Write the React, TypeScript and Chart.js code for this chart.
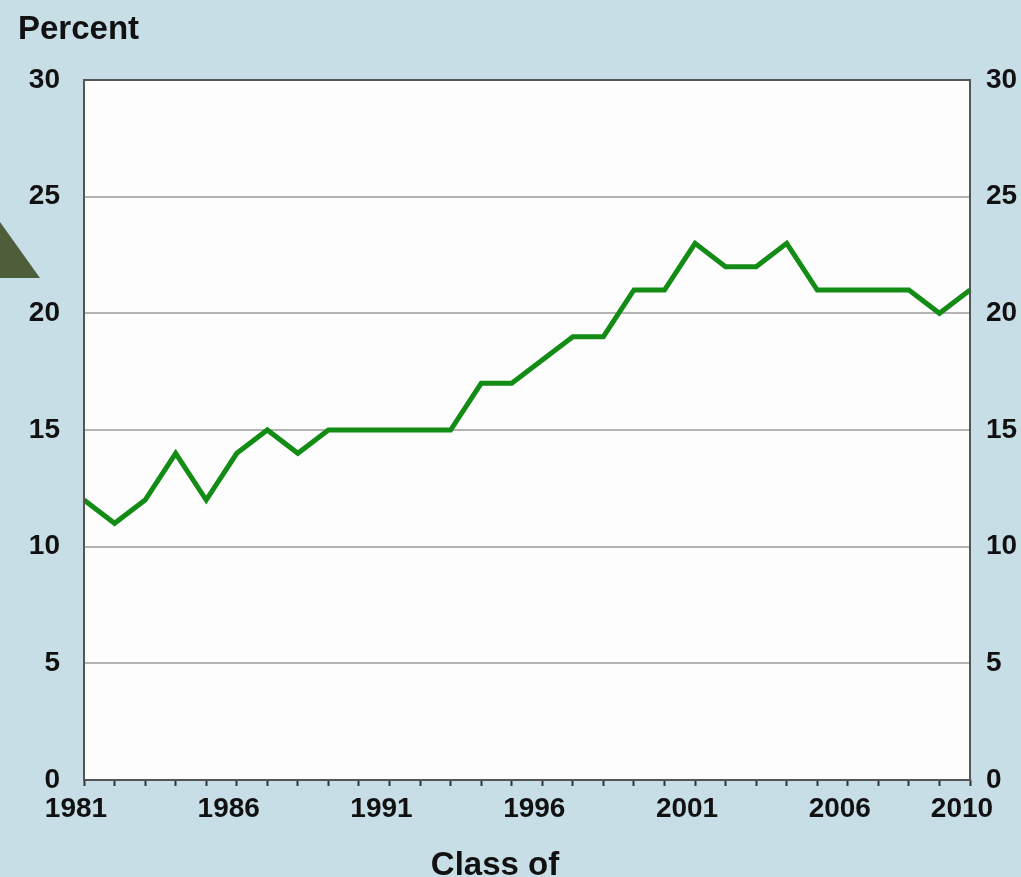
import React, { useEffect, useRef } from "react";
import { Chart, registerables } from "chart.js";

Chart.register(...registerables);

const years: string[] = [
  "1981", "1982", "1983", "1984", "1985", "1986", "1987", "1988", "1989", "1990",
  "1991", "1992", "1993", "1994", "1995", "1996", "1997", "1998", "1999", "2000",
  "2001", "2002", "2003", "2004", "2005", "2006", "2007", "2008", "2009", "2010",
];
const percentValues: number[] = [
  12, 11, 12, 14, 12, 14, 15, 14, 15, 15,
  15, 15, 15, 17, 17, 18, 19, 19, 21, 21,
  23, 22, 22, 23, 21, 21, 21, 21, 20, 21,
];
const labelledYears: string[] = ["1981", "1986", "1991", "1996", "2001", "2006", "2010"];
const yTickMin = 0;
const yTickMax = 30;
const yTickStep = 5;
const yTitle = "Percent";
const xTitle = "Class of";

const FONT = '"Liberation Sans", Arial, Helvetica, sans-serif';

const decorPlugin = {
  id: "decor",
  beforeDraw(chart: any) {
    const { ctx, chartArea } = chart;
    ctx.save();
    ctx.fillStyle = "#fdfdfd";
    ctx.fillRect(chartArea.left, chartArea.top, chartArea.right - chartArea.left, chartArea.bottom - chartArea.top);
    ctx.fillStyle = "#4f5e3a";
    ctx.beginPath();
    ctx.moveTo(0, 222);
    ctx.lineTo(40, 278);
    ctx.lineTo(0, 278);
    ctx.closePath();
    ctx.fill();
    ctx.restore();
  },
  afterDraw(chart: any) {
    const { ctx, chartArea } = chart;
    ctx.save();
    ctx.strokeStyle = "#555555";
    ctx.lineWidth = 2;
    ctx.strokeRect(chartArea.left, chartArea.top, chartArea.right - chartArea.left, chartArea.bottom - chartArea.top);
    ctx.fillStyle = "#111111";
    ctx.font = `bold 33px ${FONT}`;
    ctx.textBaseline = "alphabetic";
    ctx.textAlign = "left";
    ctx.fillText(yTitle, 18, 39);
    ctx.textAlign = "center";
    ctx.fillText(xTitle, 495, 875);
    ctx.restore();
  },
};

export default function App() {
  const canvasRef = useRef<HTMLCanvasElement | null>(null);

  useEffect(() => {
    if (!canvasRef.current) return;
    const chart = new Chart(canvasRef.current, {
      type: "line",
      data: {
        labels: years,
        datasets: [
          {
            label: yTitle,
            data: percentValues,
            borderColor: "#128c14",
            borderWidth: 5,
            pointRadius: 0,
            tension: 0,
            fill: false,
            yAxisID: "y",
          },
        ],
      },
      options: {
        animation: false,
        responsive: true,
        maintainAspectRatio: false,
        layout: { padding: { top: 80, left: 0, right: 0, bottom: 0 } },
        plugins: {
          legend: { display: false },
          tooltip: { enabled: false },
          title: { display: false },
        },
        scales: {
          x: {
            type: "category",
            offset: false,
            afterFit(scale: any) {
              scale.height = 97;
            },
            grid: {
              display: true,
              drawOnChartArea: false,
              drawTicks: true,
              tickLength: 6,
              tickColor: "#333333",
              tickWidth: 2,
            },
            border: { display: false },
            ticks: {
              autoSkip: false,
              maxRotation: 0,
              minRotation: 0,
              padding: 6,
              labelOffset: -8,
              color: "#111111",
              font: { family: FONT, size: 28, weight: "bold" },
              callback(_v: any, idx: number) {
                const yr = years[idx];
                return labelledYears.includes(yr) ? yr : "";
              },
            },
          },
          y: {
            type: "linear",
            position: "left",
            min: yTickMin,
            max: yTickMax,
            afterFit(scale: any) {
              scale.width = 84;
            },
            grid: {
              color: "#b4b4b4",
              lineWidth: 2,
              drawTicks: false,
            },
            border: { display: false },
            ticks: {
              stepSize: yTickStep,
              padding: 24,
              color: "#111111",
              font: { family: FONT, size: 28, weight: "bold" },
            },
          },
          y2: {
            type: "linear",
            position: "right",
            min: yTickMin,
            max: yTickMax,
            afterFit(scale: any) {
              scale.width = 51;
            },
            grid: { display: false, drawTicks: false },
            border: { display: false },
            ticks: {
              stepSize: yTickStep,
              padding: 16,
              color: "#111111",
              font: { family: FONT, size: 28, weight: "bold" },
            },
          },
        },
      },
      plugins: [decorPlugin],
    } as any);
    return () => chart.destroy();
  }, []);

  return (
    <div
      style={{
        position: "absolute",
        left: 0,
        top: 0,
        width: 1021,
        height: 877,
        background: "#c8dee7",
      }}
    >
      <canvas ref={canvasRef} />
    </div>
  );
}
